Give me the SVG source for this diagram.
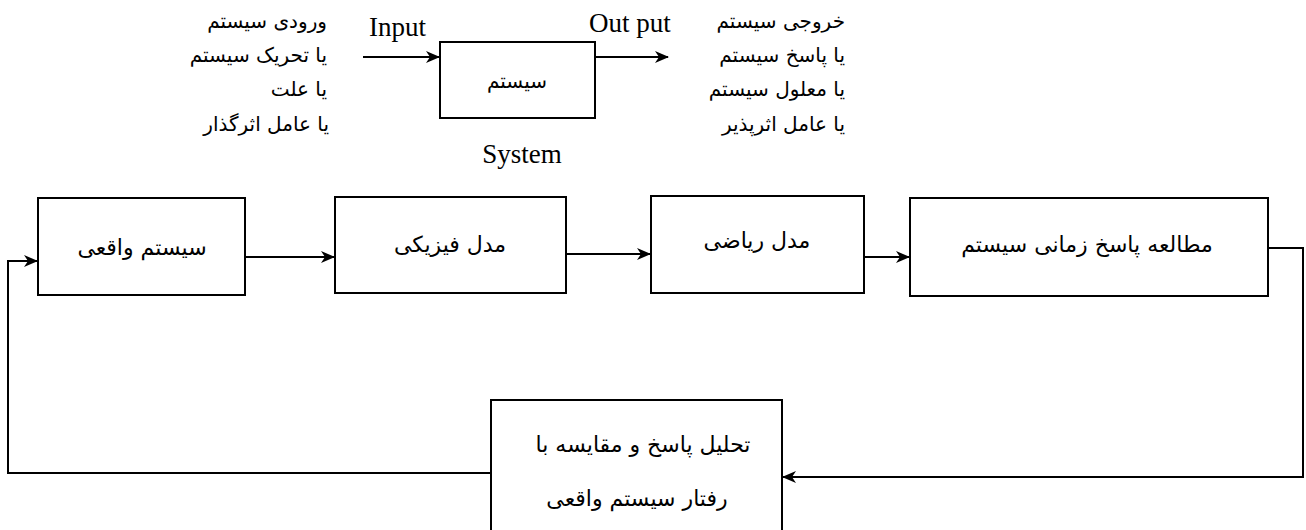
<svg xmlns="http://www.w3.org/2000/svg" width="1306" height="530" viewBox="0 0 1306 530">
<defs>
<marker id="ah" markerWidth="14" markerHeight="12" refX="13" refY="6" orient="auto" markerUnits="userSpaceOnUse">
<path d="M0,0 L14,6 L0,12 L4,6 z" fill="#000"/>
</marker>
<style>
.box{fill:#fff;stroke:#000;stroke-width:2}
.fa{font-family:"DejaVu Sans",sans-serif;font-size:20px;fill:#000}
.fb{font-family:"DejaVu Sans",sans-serif;font-size:22px;fill:#000}
.en{font-family:"Liberation Serif",serif;font-size:27px;fill:#000}
.c{fill:none;stroke:#000;stroke-width:2}
</style>
</defs>
<rect width="1306" height="530" fill="#fff"/>
<g id="labels-in">
<text class="fa" x="327" y="28" text-anchor="end">ورودی سیستم</text>
<text class="fa" x="327" y="62" text-anchor="end">یا تحریک سیستم</text>
<text class="fa" x="327" y="96" text-anchor="end">یا علت</text>
<text class="fa" x="329" y="131" text-anchor="end">یا عامل اثرگذار</text>
</g>
<g id="labels-out">
<text class="fa" x="845" y="28" text-anchor="end">خروجی سیستم</text>
<text class="fa" x="845" y="62" text-anchor="end">یا پاسخ سیستم</text>
<text class="fa" x="845" y="96" text-anchor="end">یا معلول سیستم</text>
<text class="fa" x="845" y="131" text-anchor="end">یا عامل اثرپذیر</text>
</g>
<g id="system">
<rect class="box" x="440" y="42" width="155" height="76"/>
<text class="fa" x="517" y="88" text-anchor="middle">سیستم</text>
<text class="en" x="522" y="163" text-anchor="middle">System</text>
</g>
<text class="en" x="369" y="36">Input</text>
<text class="en" x="589" y="32">Out put</text>
<g id="n1">
<rect class="box" x="38" y="198" width="207" height="97"/>
<text class="fb" x="142" y="255" text-anchor="middle">سیستم واقعی</text>
</g>
<g id="n2">
<rect class="box" x="335" y="197" width="231" height="96"/>
<text class="fb" x="450" y="252" text-anchor="middle">مدل فیزیکی</text>
</g>
<g id="n3">
<rect class="box" x="651" y="196" width="213" height="97"/>
<text class="fb" x="757" y="248" text-anchor="middle">مدل ریاضی</text>
</g>
<g id="n4">
<rect class="box" x="910" y="198" width="358" height="98"/>
<text class="fb" x="1087" y="252" text-anchor="middle">مطالعه پاسخ زمانی سیستم</text>
</g>
<g id="n5">
<rect class="box" x="491" y="400" width="291" height="140"/>
<text class="fb" x="643" y="452" text-anchor="middle">تحلیل پاسخ و مقایسه با</text>
<text class="fb" x="637" y="506" text-anchor="middle">رفتار سیستم واقعی</text>
</g>
<g id="connectors">
<path class="c" d="M363,57 H439" marker-end="url(#ah)"/>
<path class="c" d="M595,57 H668" marker-end="url(#ah)"/>
<path class="c" d="M245,257 H334" marker-end="url(#ah)"/>
<path class="c" d="M566,254 H650" marker-end="url(#ah)"/>
<path class="c" d="M864,257 H909" marker-end="url(#ah)"/>
<path class="c" d="M1268,248 H1303 V477 H783" marker-end="url(#ah)"/>
<path class="c" d="M491,473 H8 V261 H37" marker-end="url(#ah)"/>
</g>
</svg>
